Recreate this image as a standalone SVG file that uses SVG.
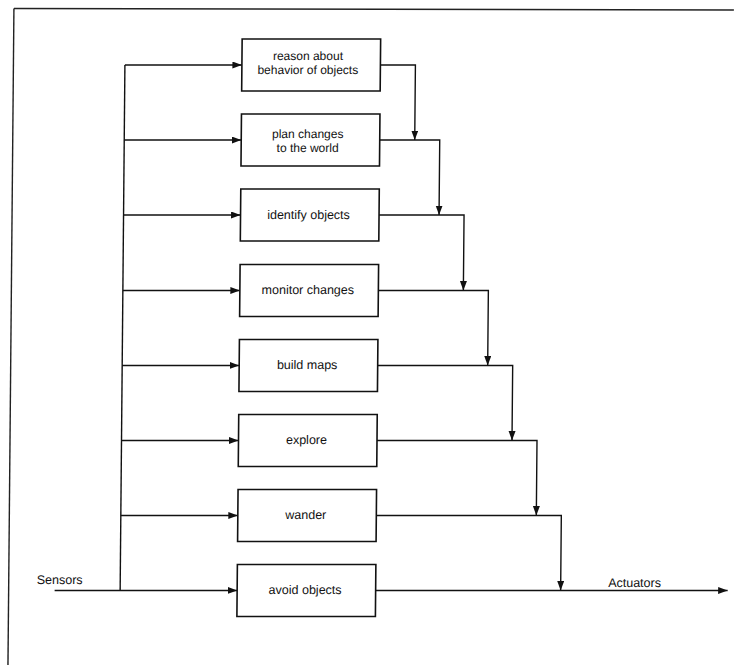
<svg xmlns="http://www.w3.org/2000/svg" width="734" height="665" viewBox="0 0 734 665">
  <style>
    .box { fill: #fff; stroke: #111; stroke-width: 1.6; }
    .wire { fill: none; stroke: #111; stroke-width: 1.4; }
    .frame { fill: none; stroke: #222; stroke-width: 1.4; }
    .lbl { font-family: "Liberation Sans", Arial, Helvetica, sans-serif; font-size: 12.5px; fill: #111; }
    .sm { font-size: 12px; }
    .mid { text-anchor: middle; }
  </style>
  <defs>
    <marker id="arrow" markerUnits="userSpaceOnUse" markerWidth="10" markerHeight="8" refX="9.5" refY="3.5" orient="auto">
      <path d="M0,0 L9.5,3.5 L0,7 Z" fill="#111"/>
    </marker>
  </defs>
  <rect width="734" height="665" fill="#fff"/>
  <!-- slight shear so the columns lean like a printed plate -->
  <g transform="skewX(-0.52)">
    <g id="frame">
      <line class="frame" x1="14" y1="8.5" x2="734" y2="10"/>
      <line class="frame" x1="14" y1="8.5" x2="14" y2="665"/>
    </g>

    <g id="connectors">
      <!-- sensor bus and inputs -->
      <line class="wire" x1="125.5" y1="65" x2="125.5" y2="590.5"/>
      <line class="wire" x1="125.5" y1="65" x2="242.5" y2="65" marker-end="url(#arrow)"/>
      <line class="wire" x1="125.5" y1="140" x2="242.5" y2="140" marker-end="url(#arrow)"/>
      <line class="wire" x1="125.5" y1="215" x2="242.5" y2="215" marker-end="url(#arrow)"/>
      <line class="wire" x1="125.5" y1="290.5" x2="242.5" y2="290.5" marker-end="url(#arrow)"/>
      <line class="wire" x1="125.5" y1="365.5" x2="242.5" y2="365.5" marker-end="url(#arrow)"/>
      <line class="wire" x1="125.5" y1="440.5" x2="242.5" y2="440.5" marker-end="url(#arrow)"/>
      <line class="wire" x1="125.5" y1="515.5" x2="242.5" y2="515.5" marker-end="url(#arrow)"/>
      <line class="wire" x1="60" y1="590.5" x2="242.5" y2="590.5" marker-end="url(#arrow)"/>
      <!-- outputs cascading down to the actuators -->
      <path class="wire" d="M381,65 H416 V140" marker-end="url(#arrow)"/>
      <path class="wire" d="M381,140 H441 V215" marker-end="url(#arrow)"/>
      <path class="wire" d="M381,215 H466 V290.5" marker-end="url(#arrow)"/>
      <path class="wire" d="M381,290.5 H491 V365.5" marker-end="url(#arrow)"/>
      <path class="wire" d="M381,365.5 H516 V440.5" marker-end="url(#arrow)"/>
      <path class="wire" d="M381,440.5 H541 V515.5" marker-end="url(#arrow)"/>
      <path class="wire" d="M381,515.5 H566 V590.5" marker-end="url(#arrow)"/>
      <line class="wire" x1="381" y1="590.5" x2="733" y2="590.5" marker-end="url(#arrow)"/>
    </g>

    <g id="reason">
      <rect class="box" x="242.5" y="39" width="138.5" height="52"/>
      <text class="lbl sm mid" x="308.5" y="60.5">reason about</text>
      <text class="lbl sm mid" x="308.5" y="74">behavior of objects</text>
    </g>
    <g id="plan">
      <rect class="box" x="242.5" y="114" width="138.5" height="52"/>
      <text class="lbl sm mid" x="309" y="138.5">plan changes</text>
      <text class="lbl sm mid" x="309" y="152">to the world</text>
    </g>
    <g id="identify">
      <rect class="box" x="242.5" y="189" width="138.5" height="52"/>
      <text class="lbl mid" x="310.5" y="219">identify objects</text>
    </g>
    <g id="monitor">
      <rect class="box" x="242.5" y="264.5" width="138.5" height="52"/>
      <text class="lbl mid" x="310.5" y="294.5">monitor changes</text>
    </g>
    <g id="maps">
      <rect class="box" x="242.5" y="339.5" width="138.5" height="52"/>
      <text class="lbl mid" x="310.5" y="369.5">build maps</text>
    </g>
    <g id="explore">
      <rect class="box" x="242.5" y="414.5" width="138.5" height="52"/>
      <text class="lbl mid" x="310.5" y="444.5">explore</text>
    </g>
    <g id="wander">
      <rect class="box" x="242.5" y="489.5" width="138.5" height="52"/>
      <text class="lbl mid" x="310.5" y="519.5">wander</text>
    </g>
    <g id="avoid">
      <rect class="box" x="242.5" y="564.5" width="138.5" height="52"/>
      <text class="lbl mid" x="310.5" y="594.5">avoid objects</text>
    </g>

    <g id="io-labels">
      <text class="lbl" x="42" y="584">Sensors</text>
      <text class="lbl" x="613.5" y="587">Actuators</text>
    </g>
  </g>
</svg>
